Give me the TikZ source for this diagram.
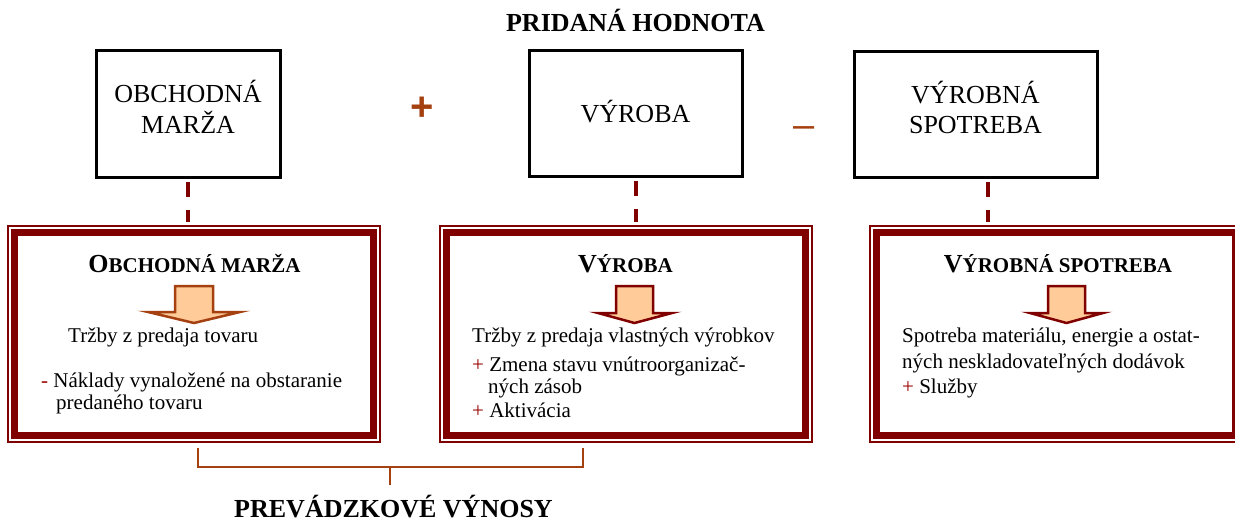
\documentclass[tikz,border=0pt]{standalone}
\usepackage{fontspec}
\setmainfont{Liberation Serif}
\newfontfamily\opfont{Liberation Sans}
\usetikzlibrary{calc}
\definecolor{dred}{RGB}{128,0,0}
\definecolor{rust}{RGB}{165,64,16}
\definecolor{peach}{RGB}{255,204,153}
\definecolor{txtred}{RGB}{153,0,0}
\newcommand{\scap}[2]{{\fontsize{26}{30}\selectfont #1}{\fontsize{21}{24}\selectfont #2}}
\newcommand{\pr}{{\color{txtred}+}}
\begin{document}
\begin{tikzpicture}[x=1pt,y=-1pt,
  topbox/.style={draw=black,line width=3pt,inner sep=0pt},
  toptext/.style={inner sep=0pt,anchor=base,font=\fontsize{26}{31}\selectfont},
  frameout/.style={draw=dred,line width=1.4pt,minimum width=372pt,minimum height=216pt,inner sep=0pt},
  thickband/.style={draw=dred,line width=7pt},
  dashconn/.style={draw=dred,line width=4pt,dash pattern=on 15pt off 13pt,shorten <=3pt,shorten >=3pt},
  boxtitle/.style={inner sep=0pt,anchor=base,font=\bfseries},
  body/.style={inner sep=0pt,anchor=base west,font=\fontsize{21}{24}\selectfont},
  bigtitle/.style={inner sep=0pt,anchor=base,font=\bfseries\fontsize{26}{30}\selectfont},
  arrowA/.style={draw=rust,fill=peach,line width=2.5pt,line join=miter},
  arrowB/.style={draw=dred,fill=peach,line width=2.5pt,line join=miter},
  bracket/.style={draw=rust,line width=2pt},
  opsign/.style={inner sep=0pt,text=rust}
]
\useasboundingbox (0,0) rectangle (1235,523);
\clip (0,0) rectangle (1235,523);

% title
\node[bigtitle] (pt) at (635.5,31) {PRIDANÁ HODNOTA};

% top boxes
\node[topbox,minimum width=184pt,minimum height=127pt] (bA) at (188,113.5) {};
\node[topbox,minimum width=213pt,minimum height=126pt] (bB) at (635.5,113) {};
\node[topbox,minimum width=243pt,minimum height=126pt] (bC) at (975.5,114) {};
\node[toptext] (tA1) at (188,102) {OBCHODNÁ};
\node[toptext] (tA2) at (188,133) {MARŽA};
\node[toptext] (tB) at (635.5,122.7) {VÝROBA};
\node[toptext] (tC1) at (975.5,103) {VÝROBNÁ};
\node[toptext] (tC2) at (975.5,133) {SPOTREBA};

% operators
\node[opsign,font=\opfont\bfseries\fontsize{40}{40}\selectfont] (plus) at (422,109) {+};
\node[opsign,anchor=base,font=\opfont\fontsize{38}{38}\selectfont] (minus) at (804,137) {–};

% bottom frames
\node[frameout] (fA) at (194,334) {};
\node[frameout] (fB) at (626,334) {};
\node[frameout] (fC) at (1056,334) {};
\foreach \f in {fA,fB,fC}{
  \draw[thickband] ([shift={(7.5,7.5)}]\f.north west) rectangle ([shift={(-7.5,-7.5)}]\f.south east);
}

% dashed connectors
\draw[dashconn] (bA.south) -- (bA.south |- fA.north);
\draw[dashconn] (bB.south) -- (bB.south |- fB.north);
\coordinate (dC) at ([xshift=12.5pt]bC.south);
\draw[dashconn] (dC) -- (dC |- fC.north);

% frame titles
\node[boxtitle] (hA) at (194.5,272.5) {\scap{O}{BCHODNÁ MARŽA}};
\node[boxtitle] (hB) at (625.5,272.5) {\scap{V}{ÝROBA}};
\node[boxtitle] (hC) at (1058,272) {\scap{V}{ÝROBNÁ SPOTREBA}};

% arrows
\draw[arrowA] (175,286) -- (213,286) -- (213,312) -- (240,312) -- (194,323) -- (148,312) -- (175,312) -- cycle;
\draw[arrowB] (616,286) -- (653,286) -- (653,313) -- (672,313) -- (634.5,323) -- (598,313) -- (616,313) -- cycle;
\draw[arrowB] (1048,286) -- (1085,286) -- (1085,313) -- (1103,313) -- (1066.5,323) -- (1030,313) -- (1048,313) -- cycle;

% body texts A
\node[body] (a1) at (68,342) {Tržby z predaja tovaru};
\node[body] (a2) at (41,387) {{\color{txtred}-} Náklady vynaložené na obstaranie};
\node[body] (a3) at (56,409) {predaného tovaru};
% body texts B
\node[body] (b1) at (472,342) {Tržby z predaja vlastných výrobkov};
\node[body] (b2) at (472,371.5) {\pr{} Zmena stavu vnútroorganizač-};
\node[body] (b3) at (488,393) {ných zásob};
\node[body] (b4) at (472,417) {\pr{} Aktivácia};
% body texts C
\node[body] (c1) at (902,342.5) {Spotreba materiálu, energie a ostat-};
\node[body] (c2) at (902,368) {ných neskladovateľných dodávok};
\node[body] (c3) at (902,393) {\pr{} Služby};

% bracket
\coordinate (brL) at (198,448);
\coordinate (brR) at (583,448);
\coordinate (brM) at (390,467);
\coordinate (brS) at (390,485);
\draw[bracket] (brL) -- (brL |- brM) -- (brR |- brM) -- (brR);
\draw[bracket] (brM) -- (brS);

\node[bigtitle] (pv) at (393.5,517) {PREVÁDZKOVÉ VÝNOSY};
\end{tikzpicture}
\end{document}
